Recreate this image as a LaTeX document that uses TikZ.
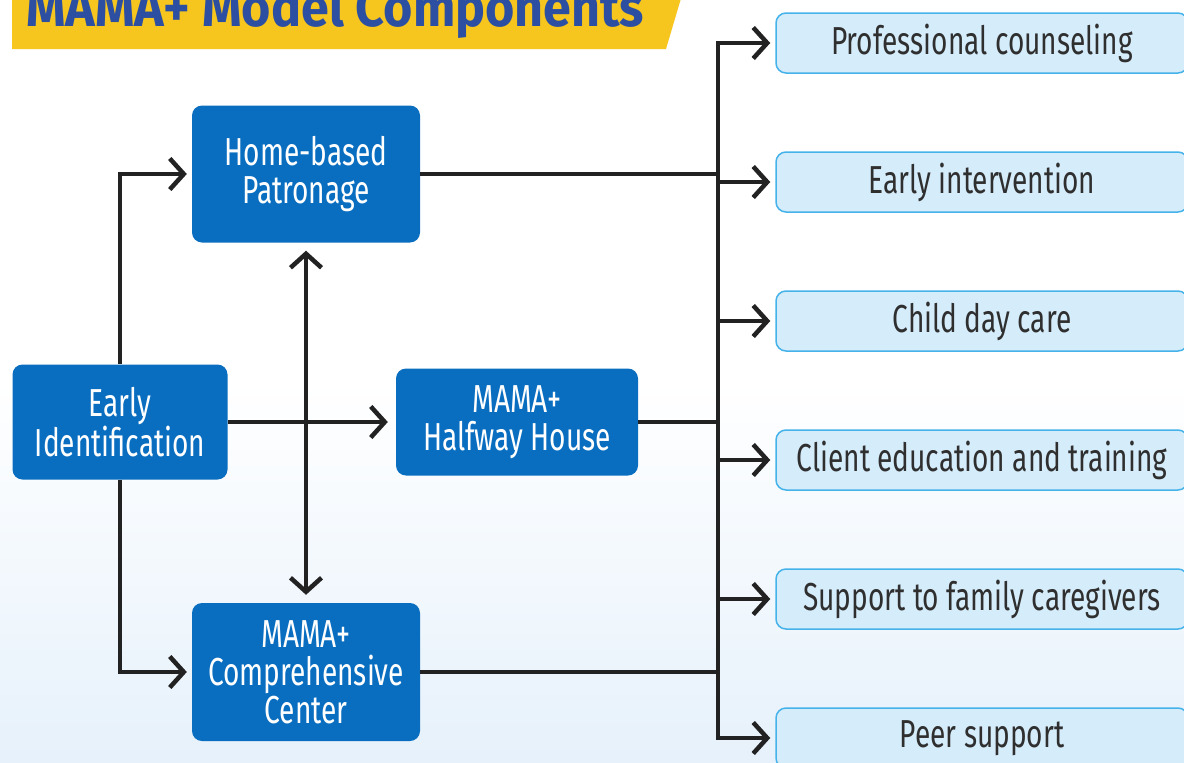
\documentclass[tikz,border=0pt]{standalone}
\usepackage{fontspec}
\setmainfont[FakeStretch=0.72]{Fira Sans}
\newfontfamily\titlefont[FakeStretch=0.93]{Fira Sans}
\usetikzlibrary{positioning, arrows.meta}
\definecolor{boxblue}{HTML}{0A6EC0}
\definecolor{paleblue}{HTML}{D5ECFA}
\definecolor{skyline}{HTML}{45B3EA}
\definecolor{darktext}{HTML}{2F2F2F}
\definecolor{arrowgray}{HTML}{222222}
\definecolor{bannergold}{HTML}{F6C61E}
\definecolor{titleblue}{HTML}{2D4FA2}
\definecolor{bgblue}{HTML}{E6F1FB}
\tikzset{
>={Straight Barb[length=14pt,width=31pt]}, % open chevron heads
line/.style={line width=4.5pt, draw=arrowgray}, % every connector
mainbox/.style={rounded corners=10pt, fill=boxblue, text=white, align=center, font=\fontsize{39}{38}\selectfont},
servicebox/.style={rounded corners=10pt, fill=paleblue, draw=skyline, line width=1.5pt, minimum width=412pt, minimum height=60pt, text=darktext, font=\fontsize{39}{40}\selectfont},
}

\begin{document}
\begin{tikzpicture}[x=1pt, y=-1pt, node distance=139pt]
    \useasboundingbox (0,0) rectangle (1184,763);
    \shade[top color=white, bottom color=bgblue, middle color=white] (0,0) rectangle (1184,763);

    % title banner
    \fill[bannergold] (12,-5) -- (682,-5) -- (666,49) -- (12,49) -- cycle;
    \node[anchor=base west, inner sep=0pt, text=titleblue, font=\titlefont\bfseries\fontsize{54}{56}\selectfont] (title) at (26,26) {MAMA+ Model Components};

    % main components
    \node[mainbox, minimum width=228pt, minimum height=137pt] (hbp) at (306,174) {Home-based\\Patronage};
    \node[mainbox, minimum width=215pt, minimum height=115pt] (ei) at (120,422) {Early\\Identification};
    \node[mainbox, minimum width=242pt, minimum height=107pt] (hh) at (517,422) {MAMA+\\Halfway House};
    \node[mainbox, minimum width=228pt, minimum height=138pt] (cc) at (306,672) {MAMA+\\Comprehensive\\Center};

    % services
    \node[servicebox] (s1) at (982,43) {Professional counseling};
    \node[servicebox, below of=s1] (s2) {Early intervention};
    \node[servicebox, below of=s2] (s3) {Child day care};
    \node[servicebox, below of=s3] (s4) {Client education and training};
    \node[servicebox, below of=s4] (s5) {Support to family caregivers};
    \node[servicebox, below of=s5] (s6) {Peer support};

    \coordinate (bus) at (718,0);

    \draw[line, ->, shorten >=5pt] (ei.north) |- (hbp.west);
    \draw[line, ->, shorten >=5pt] (ei.south) |- (cc.west);
    \draw[line, ->, shorten >=8pt] (ei.east) -- (hh.west);
    \draw[line, <->, shorten >=8pt, shorten <=8pt] (hbp.south) -- (cc.north);

    \draw[line] (hbp.east) -- (bus |- hbp.east);
    \draw[line] (hh.east) -- (bus |- hh.east);
    \draw[line] (cc.east) -- (bus |- cc.east);
    \draw[line, line cap=rect] (bus |- s1) -- (bus |- s6);
    \foreach \s in {s1,s2,s3,s4,s5,s6}
        \draw[line, ->, shorten >=5pt] (bus |- \s) -- (\s.west);
\end{tikzpicture}
\end{document}
